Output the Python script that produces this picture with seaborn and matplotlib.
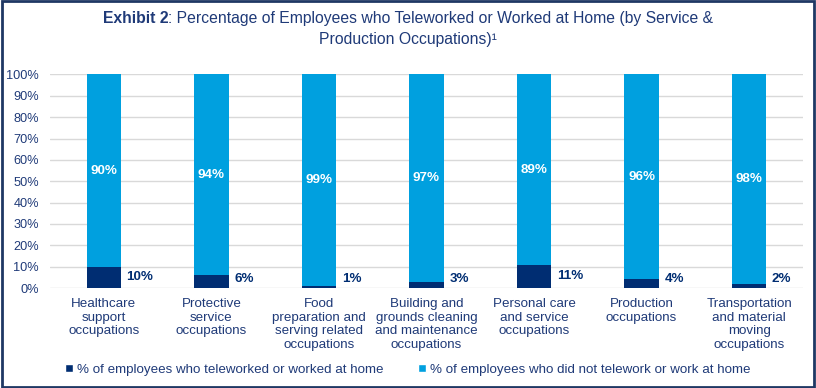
import pandas as pd
import seaborn as sns
import matplotlib.pyplot as plt
from matplotlib.patches import Patch, Rectangle

# data
categories = [
    "Healthcare\nsupport\noccupations",
    "Protective\nservice\noccupations",
    "Food\npreparation and\nserving related\noccupations",
    "Building and\ngrounds cleaning\nand maintenance\noccupations",
    "Personal care\nand service\noccupations",
    "Production\noccupations",
    "Transportation\nand material\nmoving\noccupations",
]
teleworked = [10, 6, 1, 3, 11, 4, 2]
not_teleworked = [90, 94, 99, 97, 89, 96, 98]
series_names = [
    "% of employees who teleworked or worked at home",
    "% of employees who did not telework or work at home",
]

NAVY = "#002D72"
LIGHT = "#00A0DF"
TEXT = "#1F3A78"
GRID = "#D9D9D9"

df = pd.DataFrame({"cat": categories, "tele": teleworked, "notele": not_teleworked})
df["total"] = df["tele"] + df["notele"]

sns.set_theme(style="white")
plt.rcParams["font.family"] = ["Liberation Sans", "DejaVu Sans"]

fig = plt.figure(figsize=(8.16, 3.88), dpi=100)
ax = fig.add_axes([0.0613, 0.2577, 0.9227, 0.5503])

sns.barplot(data=df, x="cat", y="total", color=LIGHT, width=0.32,
            saturation=1, linewidth=0, ax=ax, zorder=3)
sns.barplot(data=df, x="cat", y="tele", color=NAVY, width=0.32,
            saturation=1, linewidth=0, ax=ax, zorder=4)

ax.set_ylim(0, 100)
ax.set_xlim(-0.5, len(categories) - 0.5)
ax.set_yticks(range(0, 101, 10))
ax.set_yticklabels([f"{v}%" for v in range(0, 101, 10)])
ax.yaxis.grid(True, color=GRID, linewidth=1, zorder=0)
ax.set_axisbelow(True)
for s in ax.spines.values():
    s.set_visible(False)
ax.set_xlabel("")
ax.set_ylabel("")
ax.tick_params(axis="both", length=0, colors=TEXT, labelsize=9.2)
ax.tick_params(axis="y", pad=8)
ax.tick_params(axis="x", pad=7)
for lab in ax.get_xticklabels():
    lab.set_linespacing(1.2)
    lab.set_fontsize(9.6)

# value labels
for i, (t, n) in enumerate(zip(teleworked, not_teleworked)):
    ax.text(i, t + n / 2, f"{n}%", ha="center", va="center", color="white",
            fontsize=9.6, fontweight="bold", zorder=5)
    ax.annotate(f"{t}%", (i + 0.16, max(t / 2, 4.2)), xytext=(4, 0),
                textcoords="offset points", ha="left", va="center",
                color=NAVY, fontsize=9.6, fontweight="bold")

# legend
handles = [Patch(facecolor=NAVY), Patch(facecolor=LIGHT)]
fig.legend(handles, series_names, loc="center", bbox_to_anchor=(0.5, 0.047),
           ncol=2, frameon=False, fontsize=9.6, labelcolor=TEXT,
           handlelength=0.6, handleheight=0.6, handletextpad=0.3,
           columnspacing=2.6)

# title: bold lead-in + regular text
fig.canvas.draw()
r = fig.canvas.get_renderer()
t1 = fig.text(0, 0.953, "Exhibit 2", fontsize=11.3, fontweight="bold",
              color=TEXT, va="center")
t2 = fig.text(0, 0.953, ": Percentage of Employees who Teleworked or Worked at Home (by Service &",
              fontsize=11.3, color=TEXT, va="center")
w1 = t1.get_window_extent(r).width
w2 = t2.get_window_extent(r).width
x0 = (fig.bbox.width - (w1 + w2)) / 2
t1.set_x(x0 / fig.bbox.width)
t2.set_x((x0 + w1) / fig.bbox.width)
fig.text(0.5, 0.898, "Production Occupations)\u00b9", fontsize=11.3,
         color=TEXT, ha="center", va="center")

# frame around the figure
fig.patches.append(Rectangle((0.002, 0.003), 0.996, 0.994, transform=fig.transFigure,
                             fill=False, edgecolor="#1F3864", linewidth=2))

fig.savefig("out.png", dpi=100)
